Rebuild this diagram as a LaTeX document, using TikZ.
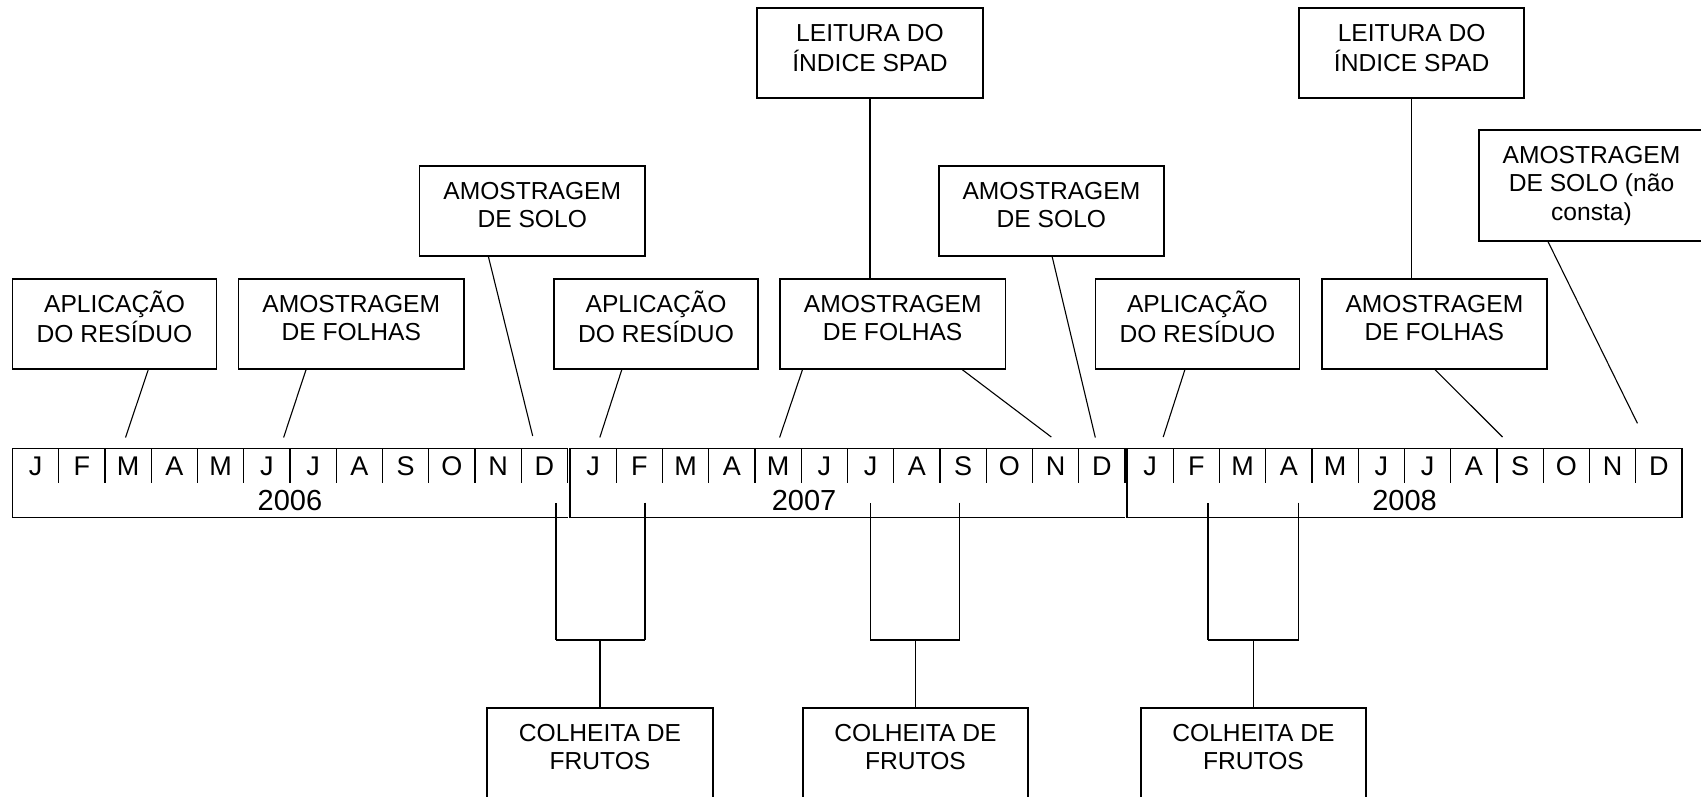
\documentclass[tikz,border=0pt]{standalone}
\usepackage{fontspec}
\setmainfont{Liberation Sans}
\usetikzlibrary{calc}
\newcommand\bxt[1]{\begin{tabular}[t]{@{}c@{}}#1\end{tabular}}
\begin{document}
\begin{tikzpicture}[x=0.5pt,y=-0.5pt,
  evbox/.style={draw=black, line width=0.9pt, inner sep=0pt, outer sep=0pt,
                minimum width=112.75pt, minimum height=45pt, anchor=north},
  aplbox/.style={evbox, minimum width=102pt},
  evtxt/.style={anchor=base, inner sep=0pt, font=\fontsize{12.3}{14.15}\selectfont},
  conn/.style={draw=black, line width=0.55pt},
  brkh/.style={draw=black, line width=0.9pt},
  yearln/.style={draw=black, line width=0.6pt},
  divln/.style={draw=black, line width=0.65pt},
  month/.style={anchor=base, inner sep=0pt, font=\fontsize{13.5}{16}\selectfont},
  yearlbl/.style={anchor=base, inner sep=0pt, font=\fontsize{14.5}{17}\selectfont}
]
\useasboundingbox (0,0) rectangle (1701,797);

% ---- timeline ----
\draw[yearln] (567.5,482.5) -- (567.5,448.3) -- (12.5,448.3) -- (12.5,517.3) -- (567.5,517.3);
\draw[yearln] (1125,482.5) -- (1125,448.3) -- (570,448.3) -- (570,517.3) -- (1125,517.3);
\draw[yearln] (1127,448.3) rectangle (1682,517.3);
\foreach \s in {12.5,570,1127}{
  \foreach \k in {1,...,11}{
    \draw[divln] (\s+46.25*\k,448.3) -- (\s+46.25*\k,482.5);
  }
}
\foreach \m [count=\i] in {J,F,M,A,M,J,J,A,S,O,N,D}{
  \node[month] (ma\i) at (12.5+46.25*\i-23.125,475) {\m};
  \node[month] (mb\i) at (570+46.25*\i-23.125,475) {\m};
  \node[month] (mc\i) at (1127+46.25*\i-23.125,475) {\m};
}
\node[yearlbl] (y2006) at (290,510.5) {2006};
\node[yearlbl] (y2007) at (804,510.5) {2007};
\node[yearlbl] (y2008) at (1404.5,510.5) {2008};

% ---- event boxes ----
\node[aplbox] (apl1) at (114.5,279) {};
\node[evtxt] (apl1t) at ($(apl1.north)+(0,33.4)$) {\bxt{APLICAÇÃO\\DO RESÍDUO}};
\node[evbox] (fol1) at (351.25,279) {};
\node[evtxt] (fol1t) at ($(fol1.north)+(0,33.4)$) {\bxt{AMOSTRAGEM\\DE FOLHAS}};
\node[evbox] (solo1) at (532.25,166) {};
\node[evtxt] (solo1t) at ($(solo1.north)+(0,33.4)$) {\bxt{AMOSTRAGEM\\DE SOLO}};
\node[aplbox] (apl2) at (656,279) {};
\node[evtxt] (apl2t) at ($(apl2.north)+(0,33.4)$) {\bxt{APLICAÇÃO\\DO RESÍDUO}};
\node[evbox] (fol2) at (892.7,279) {};
\node[evtxt] (fol2t) at ($(fol2.north)+(0,33.4)$) {\bxt{AMOSTRAGEM\\DE FOLHAS}};
\node[evbox] (leit1) at (870,8.3) {};
\node[evtxt] (leit1t) at ($(leit1.north)+(0,33.4)$) {\bxt{LEITURA DO\\ÍNDICE SPAD}};
\node[evbox] (solo2) at (1051.4,166) {};
\node[evtxt] (solo2t) at ($(solo2.north)+(0,33.4)$) {\bxt{AMOSTRAGEM\\DE SOLO}};
\node[aplbox] (apl3) at (1197.4,279) {};
\node[evtxt] (apl3t) at ($(apl3.north)+(0,33.4)$) {\bxt{APLICAÇÃO\\DO RESÍDUO}};
\node[evbox] (fol3) at (1434.4,279) {};
\node[evtxt] (fol3t) at ($(fol3.north)+(0,33.4)$) {\bxt{AMOSTRAGEM\\DE FOLHAS}};
\node[evbox] (leit2) at (1411.6,8.3) {};
\node[evtxt] (leit2t) at ($(leit2.north)+(0,33.4)$) {\bxt{LEITURA DO\\ÍNDICE SPAD}};
\node[evbox, minimum height=55.5pt] (solo3) at (1591.5,130) {};
\node[evtxt] (solo3t) at ($(solo3.north)+(0,33.4)$) {\bxt{AMOSTRAGEM\\DE SOLO (não\\consta)}};

\node[evbox, minimum height=60pt] (colh1) at (600,708) {};
\node[evtxt] (colh1t) at ($(colh1.north)+(0,33.4)$) {\bxt{COLHEITA DE\\FRUTOS}};
\node[evbox, minimum height=60pt] (colh2) at (915.5,708) {};
\node[evtxt] (colh2t) at ($(colh2.north)+(0,33.4)$) {\bxt{COLHEITA DE\\FRUTOS}};
\node[evbox, minimum height=60pt] (colh3) at (1253.5,708) {};
\node[evtxt] (colh3t) at ($(colh3.north)+(0,33.4)$) {\bxt{COLHEITA DE\\FRUTOS}};

% ---- connectors to the timeline ----
\coordinate (e1) at (125.5,437.5);
\coordinate (e2) at (283.6,437.5);
\coordinate (e3) at (532.7,436);
\coordinate (e4) at (599.8,437.5);
\coordinate (e5) at (779.6,437.5);
\coordinate (e6) at (1051.3,437);
\coordinate (e7) at (1095.3,437.5);
\coordinate (e8) at (1163.2,437);
\coordinate (e9) at (1502.5,437);
\coordinate (e10) at (1637.4,423.3);
\draw[conn] ($(apl1.south)+(34,0)$) -- (e1);
\draw[conn] ($(fol1.south)+(-45,0)$) -- (e2);
\draw[conn] ($(solo1.south)+(-44,0)$) -- (e3);
\draw[conn] ($(apl2.south)+(-34,0)$) -- (e4);
\draw[conn] ($(fol2.south)+(-90,0)$) -- (e5);
\draw[conn] ($(fol2.south)+(68.7,0)$) -- (e6);
\draw[conn] ($(solo2.south)+(0.6,0)$) -- (e7);
\draw[conn] ($(apl3.south)+(-12.3,0)$) -- (e8);
\draw[conn] (fol3.south) -- (e9);
\draw[conn] ($(solo3.south)+(-43.8,0)$) -- (e10);
\draw[conn] (leit1.south) -- (leit1.south |- fol2.north);
\draw[conn] (leit2.south) -- (leit2.south |- fol3.north);

% ---- harvest brackets ----
\foreach \n/\l/\r/\c in {1/556/645/600, 2/870.2/959.8/915.5, 3/1208/1298.5/1253.5}{
  \coordinate (bl\n) at (\l,503);
  \coordinate (br\n) at (\r,502.5);
  \coordinate (bm\n) at (\c,640);
  \draw[conn] (bl\n) -- (bl\n |- bm\n);
  \draw[conn] (br\n) -- (br\n |- bm\n);
  \draw[brkh] (bl\n |- bm\n) -- (br\n |- bm\n);
  \draw[conn] (bm\n) -- (colh\n.north);
}
\end{tikzpicture}
\end{document}
